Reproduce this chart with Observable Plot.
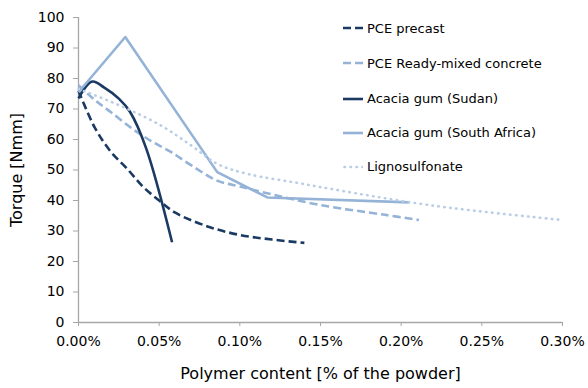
<!DOCTYPE html>
<html>
<head>
<meta charset="utf-8">
<script src="https://cdn.jsdelivr.net/npm/d3@7"></script>
<script src="https://cdn.jsdelivr.net/npm/@observablehq/plot@0.6"></script>
<style>
  html, body { margin: 0; padding: 0; background: #fff; }
  #wrap { position: relative; width: 588px; height: 388px; font-family: Verdana, "DejaVu Sans", sans-serif; }
  #legend { position: absolute; left: 343px; top: 0; font-size: 13px; color: #000; }
  .item { position: absolute; left: 0; white-space: nowrap; display: flex; align-items: center; height: 16px; }
  .item svg { margin-right: 4px; }
</style>
</head>
<body>
<div id="wrap"><div id="legend"></div></div>
<script>
// x: polymer content in % of the powder, y: torque in Nmm
const pcePrecast = [[0,76],[0.01,64],[0.02,56],[0.03,50.5],[0.04,44.5],[0.05,40],[0.06,36],[0.08,31.5],[0.10,28.7],[0.12,27.2],[0.14,26.1]];
const pceReady = [[0,77.8],[0.01,73],[0.02,69],[0.0335,63.5],[0.045,59.5],[0.057,56],[0.07,51.5],[0.086,46.5],[0.10,44.6],[0.12,42],[0.15,38.5],[0.19,35.3],[0.211,33.6]];
const acaciaSudan = [[0,73.5],[0.0085,79],[0.016,77],[0.025,73.4],[0.032,69],[0.042,57],[0.058,26.3]];
const acaciaSA = [[0,75.5],[0.029,93.6],[0.086,49.3],[0.117,41],[0.205,39.4]];
const ligno = [[0,76.6],[0.028,70.6],[0.051,64.6],[0.07,58],[0.086,52],[0.105,48.7],[0.1377,45.6],[0.15,44.4],[0.22,38.3],[0.30,33.6]];

const seriesNames = ["PCE precast","PCE Ready-mixed concrete","Acacia gum (Sudan)","Acacia gum (South Africa)","Lignosulfonate"];
const xTicks = [0,0.05,0.10,0.15,0.20,0.25,0.30];
const yTicks = [0,10,20,30,40,50,60,70,80,90,100];

const dark = "#1b3a63", light = "#95b3d7", lighter = "#b9cde5";
const dashed = "8,4", dotted = "0.5,5.5";
const styles = [
  {data: pcePrecast, stroke: dark, dash: dashed, curve: "catmull-rom"},
  {data: pceReady, stroke: light, dash: dashed, curve: "catmull-rom"},
  {data: acaciaSudan, stroke: dark, dash: null, curve: "catmull-rom"},
  {data: acaciaSA, stroke: light, dash: null, curve: "linear"},
  {data: ligno, stroke: lighter, dash: dotted, curve: "catmull-rom"}
];

const lineMarks = styles.map(s => Plot.line(s.data, {
  x: d => d[0], y: d => d[1], stroke: s.stroke, strokeWidth: 2.6,
  strokeDasharray: s.dash, curve: s.curve,
  strokeLinecap: s.dash === dotted ? "round" : "butt", strokeLinejoin: "round"
}));

const chart = Plot.plot({
  width: 588, height: 388,
  marginLeft: 78, marginRight: 26, marginTop: 17, marginBottom: 66,
  style: {fontFamily: 'Verdana, "DejaVu Sans", sans-serif', fontSize: "14px", color: "#000", background: "#fff"},
  x: {type: "linear", domain: [0, 0.30]},
  y: {type: "linear", domain: [0, 100]},
  marks: [
    Plot.ruleX([0], {stroke: "#a6a6a6", strokeWidth: 1.3}),
    Plot.ruleY([0], {stroke: "#a6a6a6", strokeWidth: 1.3}),
    Plot.axisX({ticks: xTicks, tickFormat: d => d.toFixed(2) + "%", tickSize: 4, tickPadding: 10, stroke: "#a6a6a6",
      fontSize: 14, label: "Polymer content [% of the powder]", labelAnchor: "center", labelOffset: 56, labelArrow: "none"}),
    Plot.axisY({ticks: yTicks, tickSize: 5, tickPadding: 9, stroke: "#a6a6a6", fontSize: 14,
      label: "Torque [Nmm]", labelAnchor: "center", labelOffset: 68, labelArrow: "none"}),
    ...lineMarks
  ]
});
document.getElementById("wrap").prepend(chart);

chart.querySelectorAll("g[aria-label='x-axis label'] text, g[aria-label='y-axis label'] text").forEach(t => {
  t.setAttribute("font-size", "16px");
  t.style.fontSize = "16px";
});

// legend
const legend = document.getElementById("legend");
const legendTops = [28.3, 63.3, 98.5, 132.7, 166.7];
styles.forEach((s, i) => {
  const div = document.createElement("div");
  div.className = "item";
  div.style.top = (legendTops[i] - 8) + "px";
  const dashAttr = s.dash ? `stroke-dasharray="${s.dash}"` : "";
  const cap = s.dash === dotted ? "round" : "butt";
  div.innerHTML = `<svg width="20" height="6"><line x1="${s.dash === dotted ? 1.5 : 0}" x2="20" y1="3" y2="3" stroke="${s.stroke}" stroke-width="2.6" ${dashAttr} stroke-linecap="${cap}"/></svg><span>${seriesNames[i]}</span>`;
  legend.appendChild(div);
});
</script>
</body>
</html>
